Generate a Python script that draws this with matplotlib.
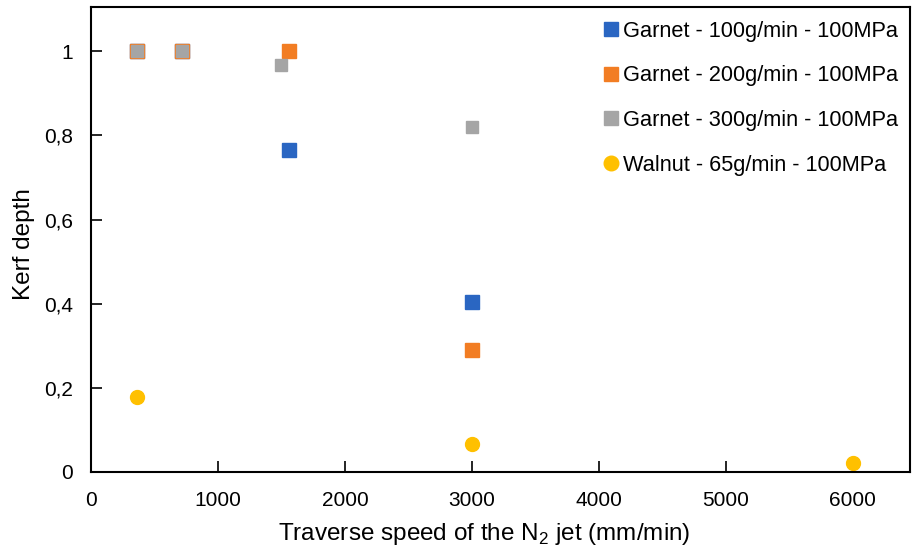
import matplotlib
matplotlib.use('Agg')
import matplotlib.pyplot as plt

plt.rcParams['font.family'] = ['Liberation Sans', 'DejaVu Sans']
plt.rcParams['mathtext.fontset'] = 'custom'
plt.rcParams['mathtext.rm'] = 'Liberation Sans'

# data
garnet100_x = [360, 720, 1560, 3000]
garnet100_y = [1.0, 1.0, 0.765, 0.404]
garnet200_x = [360, 720, 1560, 3000]
garnet200_y = [1.0, 1.0, 1.0, 0.29]
garnet300_x = [360, 720, 1500, 3000]
garnet300_y = [1.0, 1.0, 0.967, 0.82]
walnut_x = [360, 3000, 6000]
walnut_y = [0.178, 0.066, 0.021]

labels = ['Garnet - 100g/min - 100MPa', 'Garnet - 200g/min - 100MPa',
          'Garnet - 300g/min - 100MPa', 'Walnut - 65g/min - 100MPa']
colors = ['#2a66c2', '#f27d23', '#a5a5a5', '#ffc000']

fig = plt.figure(figsize=(9.13, 5.51), dpi=100)
ax = fig.add_axes([0.0997, 0.1434, 0.897, 0.8436])

ax.plot(garnet100_x, garnet100_y, 's', ms=10, color=colors[0], mec=colors[0], label=labels[0])
ax.plot(garnet200_x, garnet200_y, 's', ms=10, color=colors[1], mec=colors[1], label=labels[1])
ax.plot(garnet300_x, garnet300_y, 's', ms=9.1, color=colors[2], mec=colors[2], label=labels[2])
ax.plot(walnut_x, walnut_y, 'o', ms=10, color=colors[3], mec=colors[3], label=labels[3])

ax.set_xlim(0, 6450)
ax.set_ylim(0, 1.105)
ax.set_xticks([0, 1000, 2000, 3000, 4000, 5000, 6000])
ax.set_yticks([0, 0.2, 0.4, 0.6, 0.8, 1.0])
ax.set_yticklabels(['0', '0,2', '0,4', '0,6', '0,8', '1'])
ax.tick_params(direction='in', length=8, width=1.2, labelsize=15)
ax.tick_params(axis='x', pad=13.5)
ax.tick_params(axis='y', pad=13)

for s in ax.spines.values():
    s.set_linewidth(1.5)

ax.set_xlabel(r'Traverse speed of the N$_\mathregular{2}$ jet (mm/min)', fontsize=17.5)
ax.set_ylabel('Kerf depth', fontsize=17.5)
ax.xaxis.set_label_coords(0.48, -0.105)
ax.yaxis.set_label_coords(-0.068, 0.49)

ax.legend(loc='upper left', bbox_to_anchor=(0.611, 0.99), frameon=False, fontsize=15.7,
          handletextpad=0.05, handlelength=1.0, labelspacing=1.09, borderaxespad=0.0,
          markerscale=1.05)

plt.savefig('out.png', dpi=100)
